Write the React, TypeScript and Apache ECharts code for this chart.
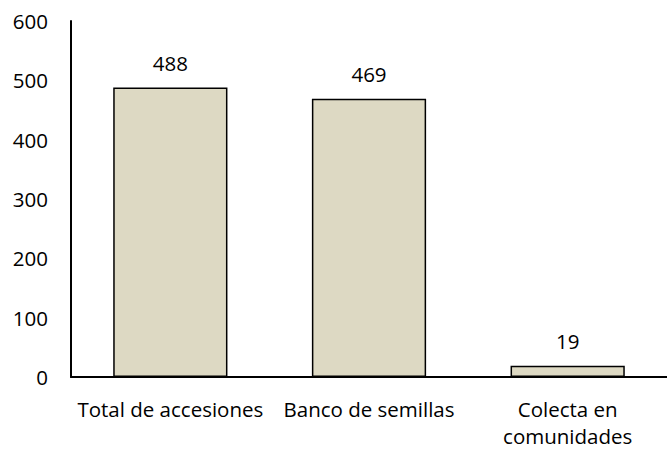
import React, { useEffect, useRef } from "react";
import * as echarts from "echarts";

const categories = ["Total de accesiones", "Banco de semillas", "Colecta en\ncomunidades"];
const values = [488, 469, 19];
const yTicks = [0, 100, 200, 300, 400, 500, 600];

const FONT = "Open Sans";

export default function App() {
  const ref = useRef<HTMLDivElement>(null);
  useEffect(() => {
    if (!ref.current) return;
    const chart = echarts.init(ref.current, null, { renderer: "svg" });
    chart.setOption({
      animation: false,
      backgroundColor: "#ffffff",
      grid: { left: 71, right: 0, top: 21, bottom: 69, containLabel: false },
      xAxis: {
        type: "category",
        data: categories,
        axisLine: { show: true, lineStyle: { color: "#000", width: 2 } },
        axisTick: { show: false },
        axisLabel: {
          color: "#000",
          fontFamily: FONT,
          fontSize: 20.5,
          margin: 18,
          lineHeight: 27,
          interval: 0,
        },
      },
      yAxis: {
        type: "value",
        min: yTicks[0],
        max: yTicks[yTicks.length - 1],
        interval: 100,
        axisLine: { show: true, lineStyle: { color: "#000", width: 2 } },
        axisTick: { show: false },
        splitLine: { show: false },
        axisLabel: { color: "#000", fontFamily: FONT, fontSize: 20.5, margin: 23 },
      },
      series: [
        {
          type: "bar",
          data: values,
          barWidth: "57.5%",
          itemStyle: { color: "#DDD9C3", borderColor: "#000", borderWidth: 1.5 },
          label: {
            show: true,
            position: "top",
            distance: 14,
            color: "#000",
            fontFamily: FONT,
            fontSize: 20.5,
          },
        },
      ],
    });
    return () => chart.dispose();
  }, []);
  return <div ref={ref} style={{ width: 667, height: 449, position: "absolute", left: 0, top: 0 }} />;
}
